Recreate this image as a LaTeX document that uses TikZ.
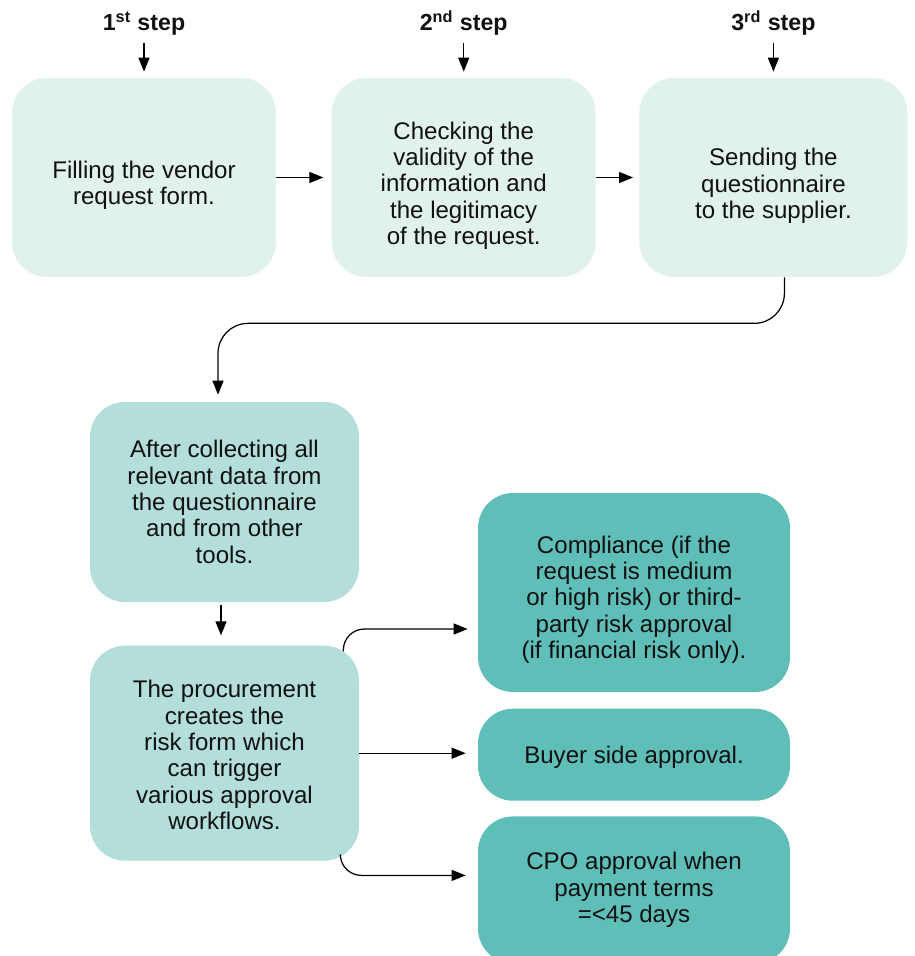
\documentclass[tikz,border=0pt]{standalone}
\usepackage{fontspec}
\setmainfont{Liberation Sans}
\usetikzlibrary{positioning, arrows.meta}
\definecolor{palestep}{HTML}{E1F1EE}
\definecolor{midstep}{HTML}{B3DEDA}
\definecolor{darkstep}{HTML}{5FBEB8}
\definecolor{inktext}{HTML}{111111}

\tikzset{
	boxtext/.style={align=center, text=inktext, font=\fontsize{13.7}{15}\selectfont},
	box/.style 2 args={rounded corners=0.7cm, inner sep=0pt, label={[boxtext, yshift=#1]center:{#2}}},
	stepbox/.style 2 args={box={#1}{#2}, fill=palestep, minimum width=5.28cm, minimum height=3.98cm},
	midbox/.style 2 args={box={#1}{#2}, fill=midstep, minimum width=5.38cm},
	darkbox/.style 2 args={box={#1}{#2}, fill=darkstep, minimum width=6.24cm},
	steplabel/.style={inner sep=0pt, text=inktext, font=\fontsize{13.2}{15}\selectfont\bfseries},
	link/.style={-{Triangle[length=2.8mm,width=2.2mm]}, line width=0.7pt}
}

\begin{document}
\begin{tikzpicture}[node distance=1cm]
	\useasboundingbox (0,0) rectangle (18.28,-19.12);
	
	\node[stepbox={-0.16cm}{Filling the vendor\\request form.}] (fill) at (2.88,-3.55) {};
	\node[stepbox={-0.16cm}{Checking the\\validity of the\\information and\\the legitimacy\\of the request.}, right=1.1cm of fill] (check) {};
	\node[stepbox={-0.17cm}{Sending the\\questionnaire\\to the supplier.}, right=0.86cm of check, minimum width=5.36cm] (send) {};
	
	\node[steplabel, above=0.84cm of fill] (s1) {1\textsuperscript{st} step};
	\node[steplabel, above=0.84cm of check] (s2) {2\textsuperscript{nd} step};
	\node[steplabel, above=0.84cm of send] (s3) {3\textsuperscript{rd} step};
	
	\node[midbox={0cm}{After collecting all\\relevant data from\\the questionnaire\\and from other\\tools.}, minimum height=4cm] (collect) at (4.49,-10.04) {};
	\node[midbox={-0.04cm}{The procurement\\creates the\\risk form which\\can trigger\\various approval\\workflows.}, minimum height=4.3cm, below=0.86cm of collect] (risk) {};
	
	\node[darkbox={-0.14cm}{Compliance (if the\\request is medium\\or high risk) or third-\\party risk approval\\(if financial risk only).}, minimum height=3.98cm] (comply) at (12.68,-11.85) {};
	\node[darkbox={-0.06cm}{Buyer side approval.}, minimum height=1.84cm, below=0.32cm of comply] (buyer) {};
	\node[darkbox={0cm}{CPO approval when\\payment terms\\=<45 days}, minimum height=2.94cm, below=0.3cm of buyer] (cpo) {};
	
	\draw[link, shorten <=0.14cm, shorten >=0.12cm] (s1.south) -- (fill.north);
	\draw[link, shorten <=0.14cm, shorten >=0.12cm] (s2.south) -- (check.north);
	\draw[link, shorten <=0.14cm, shorten >=0.12cm] (s3.south) -- (send.north);
	
	\draw[link, shorten >=0.16cm] (fill.east) -- (check.west);
	\draw[link, shorten >=0.12cm] (check.east) -- (send.west);
	
	\draw[link, rounded corners=0.6cm, shorten >=0.14cm] ([xshift=0.22cm]send.south) -- ++(0,-0.92) -| ([xshift=-0.13cm]collect.north);
	\draw[link, shorten <=0.06cm, shorten >=0.2cm] ([xshift=-0.07cm]collect.south) -- ([xshift=-0.07cm]risk.north);
	
	\draw[link, rounded corners=0.42cm, shorten >=0.2cm] ([xshift=-0.32cm,yshift=-0.12cm]risk.north east) |- ([yshift=-0.73cm]comply.west);
	\draw[link, shorten >=0.24cm] (risk.east) -- (risk.east -| buyer.west);
	\draw[link, rounded corners=0.42cm, shorten >=0.24cm] ([xshift=-0.38cm,yshift=0.1cm]risk.south east) |- ([yshift=0.29cm]cpo.west);
	
\end{tikzpicture}
\end{document}
